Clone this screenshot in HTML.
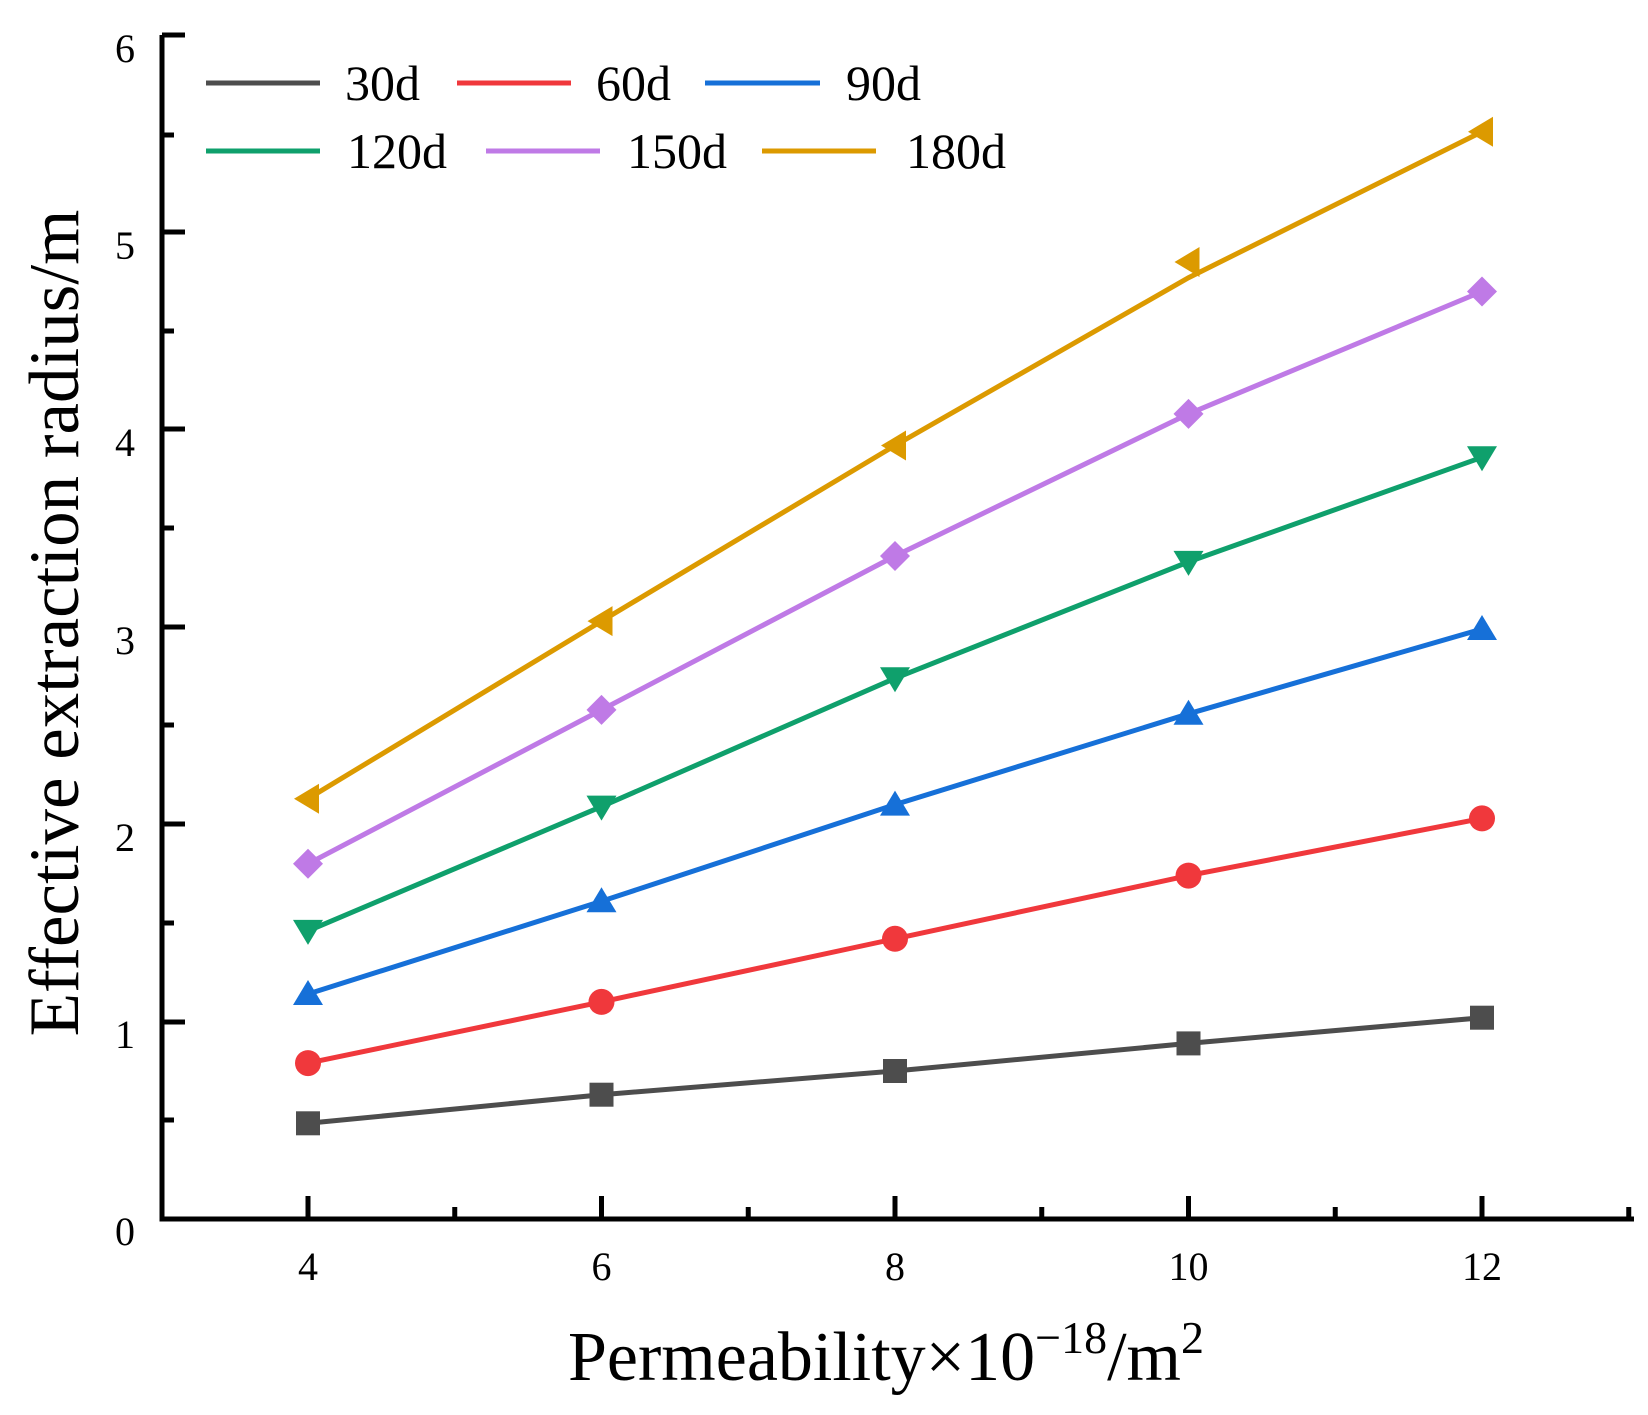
<!DOCTYPE html>
<html><head><meta charset="utf-8"><style>html,body{margin:0;padding:0;background:#fff}svg{display:block}</style></head>
<body>
<svg width="1648" height="1415" viewBox="0 0 1648 1415" xmlns="http://www.w3.org/2000/svg" font-family="Liberation Serif, serif">
<g stroke="#000" stroke-width="5" fill="none">
<path d="M162 35 V1219 H1634"/>
<path d="M162 35 H185 M162 135 H174 M162 232 H185 M162 331 H174 M162 429 H185 M162 528 H174 M162 627 H185 M162 725 H174 M162 824 H185 M162 923 H174 M162 1022 H185 M162 1120 H174"/>
<path d="M308 1219 V1196 M454.75 1219 V1207 M601.5 1219 V1196 M748.25 1219 V1207 M895 1219 V1196 M1041.75 1219 V1207 M1188.5 1219 V1196 M1335.25 1219 V1207 M1482 1219 V1196 M1628.75 1219 V1207"/>
</g>
<g font-size="40" fill="#000" text-anchor="end">
<text x="135" y="62">6</text><text x="135" y="259">5</text><text x="135" y="456">4</text><text x="135" y="654">3</text><text x="135" y="851">2</text><text x="135" y="1048">1</text><text x="135" y="1245">0</text>
</g>
<g font-size="40" fill="#000" text-anchor="middle">
<text x="308" y="1280">4</text><text x="601.5" y="1280">6</text><text x="895" y="1280">8</text><text x="1188.5" y="1280">10</text><text x="1482" y="1280">12</text>
</g>
<text x="886" y="1380" font-size="70" text-anchor="middle">Permeability×10<tspan dy="-27" font-size="46">−18</tspan><tspan dy="27">/m</tspan><tspan dy="-27" font-size="46">2</tspan></text>
<text transform="translate(78 623) rotate(-90)" font-size="71" text-anchor="middle">Effective extraction radius/m</text>
<g stroke-width="5" fill="none">
<polyline stroke="#4d4d4d" points="308,1123.3 601.5,1094.7 895,1071 1188.5,1043.4 1482,1017.7"/>
<polyline stroke="#f0383c" points="308,1063.1 601.5,1001.9 895,938.8 1188.5,875.6 1482,818.4"/>
<polyline stroke="#1670d8" points="308,994 601.5,901.3 895,804.6 1188.5,713.8 1482,629"/>
<polyline stroke="#0fa06c" points="308,930.9 601.5,806.6 895,678.3 1188.5,561.9 1482,457.3"/>
<polyline stroke="#bf7ae6" points="308,863.8 601.5,709.9 895,556 1188.5,413.9 1482,291.5"/>
<polyline stroke="#dc9a00" points="308,798.7 601.5,621.1 895,445.5 1188.5,277.7 1482,131.7"/>
</g>
<g fill="#4d4d4d">
<rect x="296" y="1111.3" width="24" height="24"/><rect x="589.5" y="1082.7" width="24" height="24"/><rect x="883" y="1059" width="24" height="24"/><rect x="1176.5" y="1031.4" width="24" height="24"/><rect x="1470" y="1005.7" width="24" height="24"/>
</g>
<g fill="#f0383c">
<circle cx="308" cy="1063.1" r="13"/><circle cx="601.5" cy="1001.9" r="13"/><circle cx="895" cy="938.8" r="13"/><circle cx="1188.5" cy="875.6" r="13"/><circle cx="1482" cy="818.4" r="13"/>
</g>
<g fill="#1670d8">
<path d="M308 980 l15 25 h-30z"/><path d="M601.5 887.3 l15 25 h-30z"/><path d="M895 790.6 l15 25 h-30z"/><path d="M1188.5 699.8 l15 25 h-30z"/><path d="M1482 615 l15 25 h-30z"/>
</g>
<g fill="#0fa06c">
<path d="M308 944.9 l15 -25 h-30z"/><path d="M601.5 820.6 l15 -25 h-30z"/><path d="M895 692.3 l15 -25 h-30z"/><path d="M1188.5 575.9 l15 -25 h-30z"/><path d="M1482 471.3 l15 -25 h-30z"/>
</g>
<g fill="#bf7ae6">
<path d="M308 848.8 l15 15 l-15 15 l-15 -15z"/><path d="M601.5 694.9 l15 15 l-15 15 l-15 -15z"/><path d="M895 541 l15 15 l-15 15 l-15 -15z"/><path d="M1188.5 398.9 l15 15 l-15 15 l-15 -15z"/><path d="M1482 276.5 l15 15 l-15 15 l-15 -15z"/>
</g>
<g fill="#dc9a00">
<path d="M294 798.7 l25 -15 v30z"/><path d="M587.5 621.1 l25 -15 v30z"/><path d="M881 445.5 l25 -15 v30z"/><path d="M1174.5 262 l25 -15 v30z"/><path d="M1468 131.7 l25 -15 v30z"/>
</g>
<g stroke-width="5">
<line x1="206" y1="83" x2="320" y2="83" stroke="#4d4d4d"/>
<line x1="457" y1="83" x2="571" y2="83" stroke="#f0383c"/>
<line x1="705" y1="83" x2="820" y2="83" stroke="#1670d8"/>
<line x1="206" y1="151" x2="320" y2="151" stroke="#0fa06c"/>
<line x1="486" y1="151" x2="600" y2="151" stroke="#bf7ae6"/>
<line x1="762" y1="151" x2="876" y2="151" stroke="#dc9a00"/>
</g>
<g font-size="50" fill="#000">
<text x="345" y="100">30d</text><text x="596" y="100">60d</text><text x="846" y="100">90d</text>
<text x="347" y="168">120d</text><text x="627" y="168">150d</text><text x="906" y="168">180d</text>
</g>
</svg>
</body></html>
